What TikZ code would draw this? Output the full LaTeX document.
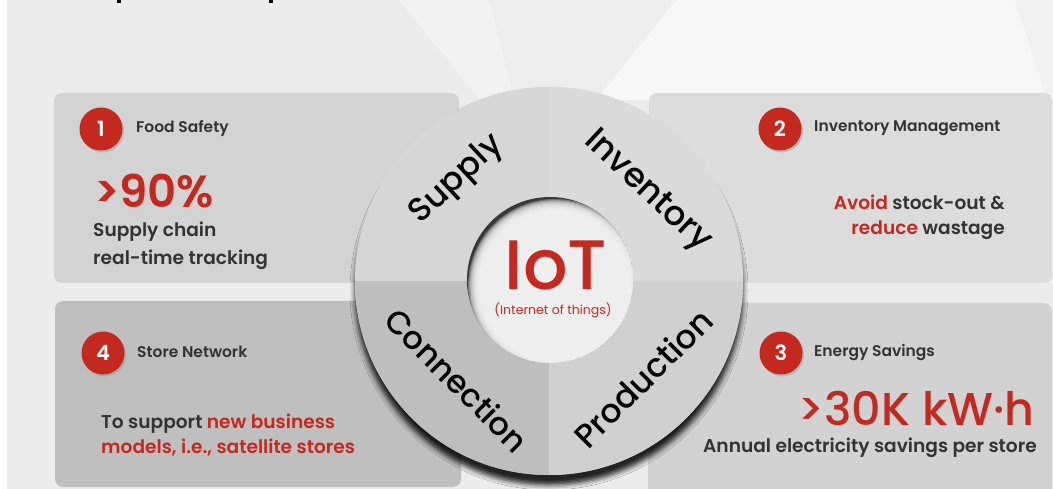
\documentclass[tikz,border=0pt]{standalone}
\usepackage{fontspec}
\setmainfont{Poppins}
\newfontfamily\medfont{Poppins Medium}
\newfontfamily\semifont{Poppins SemiBold}
\usetikzlibrary{shadows,shadows.blur}

\definecolor{bgmain}{HTML}{ECECEC}
\definecolor{bgmid}{HTML}{EDEDED}
\definecolor{bgright}{HTML}{F1F1F1}
\definecolor{raylight}{HTML}{F2F2F2}
\definecolor{raywhite}{HTML}{F7F7F7}
\definecolor{boxtl}{HTML}{D3D3D3}
\definecolor{boxtr}{HTML}{DCDCDC}
\definecolor{boxbl}{HTML}{BFBFBF}
\definecolor{boxbr}{HTML}{D2D2D2}
\definecolor{qtl}{HTML}{D6D6D6}
\definecolor{qtr}{HTML}{DADADA}
\definecolor{qbl}{HTML}{BEBEBE}
\definecolor{qbr}{HTML}{D0D0D0}
\definecolor{hubdark}{HTML}{383838}
\definecolor{hublight}{HTML}{F3F3F3}
\definecolor{accent}{HTML}{C4291F}
\definecolor{bodytext}{HTML}{333333}

\tikzset{
  panel/.style={rounded corners=8pt},
  badge/.style={circle, fill=accent, minimum size=43pt, inner sep=0pt,
    text=white, font=\semifont\fontsize{21}{21}\selectfont,
    drop shadow={shadow xshift=1.5pt, shadow yshift=-2pt, opacity=0.35}},
  heading/.style={anchor=west, inner sep=0pt, text=bodytext,
    font=\semifont\fontsize{15.5}{15.5}\selectfont},
  bodyline/.style={inner sep=0pt, text=bodytext,
    font=\semifont\fontsize{18.6}{18.6}\selectfont},
  bignum/.style={inner sep=0pt, text=accent},
  ringlabel/.style={inner sep=0pt, text=black,
    font=\medfont\fontsize{33}{33}\selectfont},
}

\begin{document}
\begin{tikzpicture}[x=1pt, y=-1pt]
\useasboundingbox (0,0) rectangle (1053,489);

% backdrop with light rays
\fill[white] (0,0) rectangle (1053,489);
\fill[bgmain] (7,0) rectangle (1053,489);
\fill[bgright] (1015,0) -- (1053,0) -- (1053,100) -- (1047,100) -- cycle;
\fill[bgmid] (489,0) -- (676,0) -- (596,100) -- (512,100) -- cycle;
\fill[raylight] (399,0) -- (489,0) -- (514,100) -- (480,100) -- cycle;
\fill[raywhite] (676,0) -- (1015,0) -- (1047,100) -- (596,100) -- cycle;

% fragments of the cut-off heading
\fill[black] (117,0) rectangle (121,3.5);
\fill[black] (269,0) rectangle (273,3.5);

% four panels
\fill[panel, boxtl] (54,93) rectangle (459,283);
\fill[panel, boxtr] (649,93) rectangle (1052,283);
\fill[panel, boxbl] (55,301) rectangle (461,487);
\fill[panel, boxbr] (648,303) rectangle (1052,500);

% outer ring with its shadow
\fill[qtl, blur shadow={shadow xshift=0pt, shadow yshift=-10pt,
  shadow blur radius=5pt, shadow opacity=85}] (549,281) circle (194pt);
\begin{scope}
  \clip (549,281) circle (194pt);
  \fill[qtl] (340,70) rectangle (549,281);
  \fill[qtr] (549,70) rectangle (760,281);
  \fill[qbl] (340,281) rectangle (549,500);
  \fill[qbr] (549,281) rectangle (760,500);
\end{scope}

% hub with an inset shadow on its upper left
\begin{scope}
  \clip (550,280) circle (83pt);
  \fill[hubdark] (550,280) circle (83pt);
  \foreach \k in {0,...,10}
    \fill[hublight, opacity=0.3] (555,286) circle ({87-\k*1.1 pt});
\end{scope}

\node[bignum, anchor=base, font=\medfont\fontsize{70}{70}\selectfont]
  (iot) at (556,290) {IoT};
\node[inner sep=0pt, text=accent, font=\fontsize{12.5}{12.5}\selectfont]
  (iotsub) at (553,310) {(Internet of things)};

% ring labels
\node[ringlabel, rotate=43]  (supply) at (457,180) {Supply};
\node[ringlabel, rotate=-43, font=\medfont\fontsize{34}{34}\selectfont]
  (inventory) at (647,192) {Inventory};
\node[ringlabel, rotate=-45, font=\medfont\fontsize{32}{32}\selectfont]
  (connection) at (457,380) {Connection};
\node[ringlabel, rotate=45]  (production) at (643,378) {Production};

% panel 1
\node[badge] (b1) at (101,129) {1};
\node[heading] (h1) at (136,128) {Food Safety};
\node[bignum, anchor=base west, font=\semifont\fontsize{45}{45}\selectfont]
  (n1) at (94,208) {>90\%};
\node[bodyline, anchor=base west] (l1a) at (93,237) {Supply chain};
\node[bodyline, anchor=base west] (l1b) at (93,265) {real-time tracking};

% panel 2
\node[badge] (b2) at (780,129) {2};
\node[heading] (h2) at (814,128) {Inventory Management};
\node[bodyline, anchor=base east] (l2a) at (1005,210)
  {\textcolor{accent}{Avoid} stock-out \&};
\node[bodyline, anchor=base east] (l2b) at (1005,235)
  {\textcolor{accent}{reduce} wastage};

% panel 3
\node[badge] (b3) at (781,353) {3};
\node[heading] (h3) at (814,353) {Energy Savings};
\node[bignum, anchor=base east, font=\medfont\fontsize{46}{46}\selectfont]
  (n3) at (1035,425) {>30K kW·h};
\node[bodyline, anchor=base east] (l3) at (1037,452)
  {Annual electricity savings per store};

% panel 4
\node[badge] (b4) at (103,353) {4};
\node[heading] (h4) at (137,352) {Store Network};
\node[bodyline, anchor=base west] (l4a) at (101,428)
  {To support \textcolor{accent}{new business}};
\node[bodyline, anchor=base west, text=accent] (l4b) at (101,453)
  {models, i.e., satellite stores};
\end{tikzpicture}
\end{document}
